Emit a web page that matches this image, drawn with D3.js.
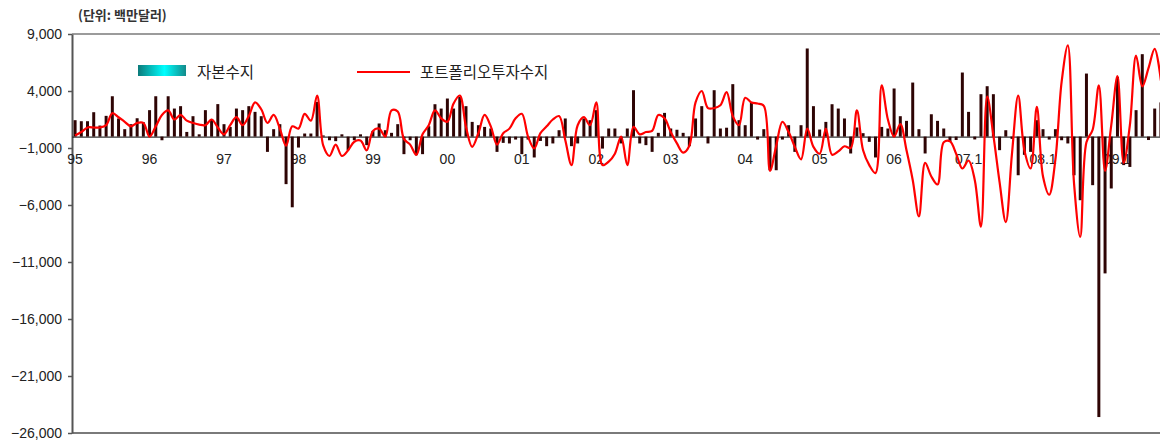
<!DOCTYPE html>
<html>
<head>
<meta charset="utf-8">
<script src="https://cdn.jsdelivr.net/npm/d3@7"></script>
<style>
  html, body { margin: 0; padding: 0; background: #fff; }
  svg { display: block; }
  .kr { font-family: "Noto Sans CJK KR", "Noto Sans", sans-serif; }
  .num { font-family: "Liberation Sans", Arial, sans-serif; }
</style>
</head>
<body>
<svg width="1160" height="444"></svg>
<script>
"use strict";

// Data (USD mn, monthly, 1995.01 - 2009.08)
const yearLabels = ["95", "96", "97", "98", "99", "00", "01", "02", "03", "04", "05", "06", "07.1", "08.1", "09.1"];

// 자본수지 (bars)
const cap95 = [1440, 1350, 1350, 2140, 970, 1820, 3540, 1590, 650, 1090, 1610, 1260];
const cap96 = [2320, 3540, -320, 3540, 2460, 2670, 410, 1790, 200, 2320, 1550, 2850];
const cap97 = [1090, 850, 2460, 2320, 2670, 2170, 1790, -1340, 650, 1090, -4170, -6200];
const cap98 = [-960, 270, 270, 3040, 100, -320, -400, 200, -1190, -320, 200, -750];
const cap99 = [500, 1150, 560, 330, 1090, -1540, -320, -1630, -1540, 910, 2840, 2460];
const cap00 = [3340, 2460, 3480, 2670, 1290, 1000, 850, 710, -1340, -550, -600, -260];
const cap01 = [-1540, -260, -1830, -380, -840, -600, 560, 1590, -840, -600, 1590, 1440];
const cap02 = [2320, -1050, 710, 710, -600, 710, 4070, -600, -750, -1340, 330, 2080];
const cap03 = [710, 600, 330, -840, 1590, 2670, -600, 4070, 710, 780, 4600, 1440];
const cap04 = [1000, 3040, -260, 650, -2950, -2950, -260, 1000, -1340, 1000, 7730, 2670];
const cap05 = [620, 1290, 2840, 2460, 1590, -1480, 800, 300, -460, -1830, 850, 710];
const cap06 = [4220, 1790, 1380, 4740, 650, -1480, 1960, 1380, 710, -460, -300, 5620];
const cap07 = [2170, -250, 3720, 4420, 3720, -1190, 560, -200, -3390, -1600, -1340, 1440];
const cap08 = [650, -260, 650, -320, -600, -3390, -5580, 5530, -4260, -24600, -12000, -4550];
const cap09 = [5240, -2500, -2660, 2320, 7230, -300, 2460, 3000];

// 포트폴리오투자수지 (line)
const pf95 = [100, 400, 800, 800, 800, 1000, 2050, 1700, 1300, 900, 1200, 1200];
const pf96 = [0, 900, 1900, 2300, 1500, 1900, 1400, 1200, 1050, 1000, 1500, 800];
const pf97 = [200, 1000, 1700, 1000, 1800, 3000, 2400, 1200, 1900, 700, -800, 900];
const pf98 = [700, 2000, 1400, 3600, -800, -1700, -700, -1700, -1200, -450, -350, -1200];
const pf99 = [500, 700, 0, 2300, 2200, -200, -700, -1600, 200, 1000, 2300, 1600];
const pf00 = [1300, 2900, 3600, 850, -900, 300, 1900, 900, -700, 300, 700, 1600];
const pf01 = [2000, 0, -1040, 300, 900, 1500, 1800, -300, -2500, 1000, 1700, 1000];
const pf02 = [3000, -2500, -2200, -1500, 0, -2500, 850, 200, 400, 500, 1900, 1600];
const pf03 = [400, -600, -1400, -800, 3000, 4000, 2500, 2500, 2750, 3900, 1800, 1000];
const pf04 = [3400, 3000, 2900, 2700, -3000, -800, 1300, 400, -900, -2000, 700, -900];
const pf05 = [-1500, 700, -1600, -1300, -850, -1000, 2300, -1200, -2500, -3200, 4500, 1500];
const pf06 = [0, 1100, -1200, -3800, -7000, -2300, -3500, -4200, -500, -400, -1500, -2800];
const pf07 = [-2100, -3800, -7900, 3500, 100, -4000, -7500, -1500, 3600, -1200, -2800, 2600];
const pf08 = [-3500, -5100, -2000, 4800, 8000, -4100, -8800, -500, 600, 4500, -3000, 1000];
const pf09 = [5300, -2300, 1000, 7100, 4400, 6000, 7700, 4900];

const capital = [].concat(cap95, cap96, cap97, cap98, cap99, cap00, cap01, cap02,
  cap03, cap04, cap05, cap06, cap07, cap08, cap09);
const portfolio = [].concat(pf95, pf96, pf97, pf98, pf99, pf00, pf01, pf02,
  pf03, pf04, pf05, pf06, pf07, pf08, pf09);

// Sizes
const plot = { l: 72, r: 1164, t: 34, b: 433 };
const svg = d3.select("svg");

// Scales
const xScale = d3.scaleBand()
  .domain(d3.range(capital.length))
  .range([plot.l, plot.r])
  .paddingInner(0.52)
  .paddingOuter(0.26);

const yScale = d3.scaleLinear()
  .domain([-26000, 9000])
  .range([plot.b, plot.t]);

const cx = i => xScale(i) + xScale.bandwidth() / 2;

// Frame
svg.append("line")
  .attr("x1", plot.l).attr("x2", plot.r)
  .attr("y1", plot.t).attr("y2", plot.t)
  .attr("stroke", "#7a7a7a").attr("stroke-width", 1.5);

svg.append("line")
  .attr("x1", plot.l).attr("x2", plot.r)
  .attr("y1", plot.b).attr("y2", plot.b)
  .attr("stroke", "#7a7a7a").attr("stroke-width", 2);

// Y axis
const yAxis = svg.append("g")
  .attr("transform", `translate(${plot.l}, 0)`)
  .call(d3.axisLeft(yScale)
    .tickValues(d3.range(-26000, 9001, 5000))
    .tickFormat(d3.format(","))
    .tickSize(4)
    .tickSizeOuter(0)
    .tickPadding(6));
yAxis.select(".domain").attr("stroke", "#555").attr("stroke-width", 2);
yAxis.selectAll(".tick line").attr("stroke", "#555").attr("stroke-width", 1.5);
yAxis.selectAll("text")
  .attr("class", "num")
  .attr("font-size", 14)
  .attr("fill", "#222");

// X axis on zero line, year labels under it
const xAxis = svg.append("g")
  .attr("transform", `translate(0, ${yScale(0)})`)
  .call(d3.axisBottom(xScale)
    .tickValues(yearLabels.map((d, k) => k * 12))
    .tickFormat(i => yearLabels[i / 12])
    .tickSize(0)
    .tickSizeOuter(0)
    .tickPadding(17));
xAxis.select(".domain").attr("stroke", "#000").attr("stroke-width", 1);
xAxis.selectAll("text")
  .attr("class", "num")
  .attr("font-size", 14)
  .attr("fill", "#222");

// Bars
svg.append("g")
  .selectAll("rect")
  .data(capital)
  .join("rect")
    .attr("x", (d, i) => xScale(i))
    .attr("width", xScale.bandwidth())
    .attr("y", d => yScale(Math.max(0, d)))
    .attr("height", d => Math.abs(yScale(d) - yScale(0)))
    .attr("fill", "#2e0404");

// Line
const line = d3.line()
  .x((d, i) => cx(i))
  .y(d => yScale(d))
  .curve(d3.curveCatmullRom.alpha(0.5));

svg.append("path")
  .attr("d", line(portfolio))
  .attr("fill", "none")
  .attr("stroke", "#ff0000")
  .attr("stroke-width", 2.2);

// Unit
svg.append("text")
  .attr("class", "kr")
  .attr("x", 78).attr("y", 20)
  .attr("font-size", 13)
  .attr("font-weight", "bold")
  .attr("fill", "#333")
  .text("(단위: 백만달러)");

// Legend
const grad = svg.append("defs").append("linearGradient")
  .attr("id", "capGrad");
grad.append("stop").attr("offset", "0%").attr("stop-color", "#0b7a7a");
grad.append("stop").attr("offset", "55%").attr("stop-color", "#00ffff");
grad.append("stop").attr("offset", "100%").attr("stop-color", "#138a8a");

svg.append("rect")
  .attr("x", 138).attr("y", 65)
  .attr("width", 48).attr("height", 11)
  .attr("fill", "url(#capGrad)");

svg.append("text")
  .attr("class", "kr")
  .attr("x", 197).attr("y", 77.5)
  .attr("font-size", 15.5)
  .attr("fill", "#222")
  .text("자본수지");

svg.append("line")
  .attr("x1", 357).attr("x2", 410)
  .attr("y1", 72).attr("y2", 72)
  .attr("stroke", "#ff0000").attr("stroke-width", 2.2);

svg.append("text")
  .attr("class", "kr")
  .attr("x", 420).attr("y", 77.5)
  .attr("font-size", 15.5)
  .attr("fill", "#222")
  .text("포트폴리오투자수지");
</script>
</body>
</html>
